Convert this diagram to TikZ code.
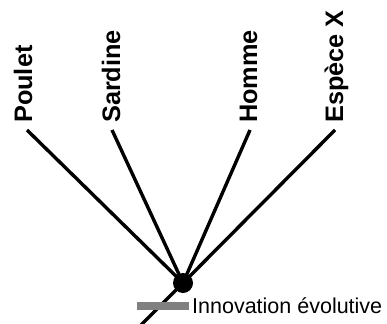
\documentclass[tikz,border=0pt]{standalone}
\usepackage{fontspec}
\setmainfont{Liberation Sans}
\definecolor{bargray}{RGB}{128,128,128}
\begin{document}
\begin{tikzpicture}[x=1pt,y=-1pt,
  lbl/.style={rotate=90,anchor=base west,inner sep=0pt,font=\fontsize{25.3}{28}\selectfont\bfseries},
  branch/.style={line width=3.4pt,black},
  dotnode/.style={circle,fill=black,inner sep=0pt,minimum size=20pt},
  bar/.style={fill=bargray,draw=none}]
\useasboundingbox (0,0) rectangle (387,323);
\node[lbl] (poulet) at (32,123) {Poulet};
\node[lbl] (sardine) at (120,123) {Sardine};
\node[lbl] (homme) at (257,123) {Homme};
\node[lbl] (espece) at (343,123) {Espèce X};
\coordinate (tp) at (27,130);
\coordinate (ts) at (112,130);
\coordinate (th) at (250,130);
\coordinate (te) at (335,130);
\coordinate (dc) at (183,283);
\coordinate (root) at (141,325);
\draw[branch] (tp) -- (dc);
\draw[branch] (ts) -- (dc);
\draw[branch] (th) -- (dc);
\draw[branch] (te) -- (dc);
\draw[branch] (dc) -- (root);
\node[dotnode] (dot) at (dc) {};
\node[bar,minimum width=52pt,minimum height=8pt,inner sep=0pt] (bar) at (163,306) {};
\node[anchor=west,inner sep=0pt,font=\fontsize{21.5}{24}\selectfont] (innov) at (192,305.5) {Innovation évolutive};
\end{tikzpicture}
\end{document}
